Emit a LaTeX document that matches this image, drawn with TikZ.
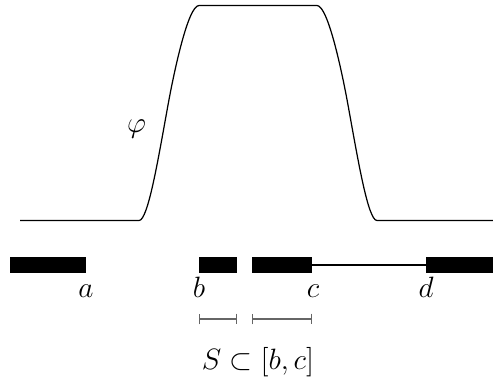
\documentclass[tikz,border=0pt]{standalone}
\usetikzlibrary{arrows.meta}
\begin{document}
\begin{tikzpicture}[x=0.408pt,y=-0.408pt,
  font=\fontsize{12}{14}\selectfont,
  curve/.style={line width=0.5pt},
  bar/.style={line width=6.2pt},
  link/.style={line width=1pt},
  span/.style={draw=black!60,line width=0.45pt,{Bar[width=4.4pt]}-{Bar[width=4.4pt]}},
  lbl/.style={anchor=base,inner sep=0pt}]
\useasboundingbox (0,0) rectangle (493,379);
% curve phi
\draw[curve] (20,220.5) -- (139,220.5)
  .. controls (148,220.5) and (158,160) .. (168,105)
  .. controls (174,72) and (188,5.5) .. (199,5.5)
  -- (317,5.5)
  .. controls (328,5.5) and (342,72) .. (348,105)
  .. controls (358,160) and (368,220.5) .. (377,220.5) -- (493,220.5);
\node[inner sep=0pt] (phi) at (136.5,129) {$\varphi$};
% bars
\coordinate (a0) at (10,265);  \coordinate (a1) at (86,265);
\coordinate (b0) at (199,265); \coordinate (b1) at (237,265);
\coordinate (c0) at (252,265); \coordinate (c1) at (312,265);
\coordinate (d0) at (426,265); \coordinate (d1) at (493,265);
\draw[link] (c1) -- (d0);
\draw[bar] (a0) -- (a1);
\draw[bar] (b0) -- (b1);
\draw[bar] (c0) -- (c1);
\draw[bar] (d0) -- (d1);
% labels
\node[lbl] (la) at (86,297) {$a$};
\node[lbl] (lb) at (199,297) {$b$};
\node[lbl] (lc) at (313,297) {$c$};
\node[lbl] (ld) at (426,297) {$d$};
% intervals
\coordinate (s0) at (199,319); \coordinate (s1) at (237,319);
\coordinate (t0) at (252,319); \coordinate (t1) at (312,319);
\draw[span] (s0) -- (s1);
\draw[span] (t0) -- (t1);
\node[lbl] (S) at (258,369.5) {$S\subset[b,c]$};
\end{tikzpicture}
\end{document}
